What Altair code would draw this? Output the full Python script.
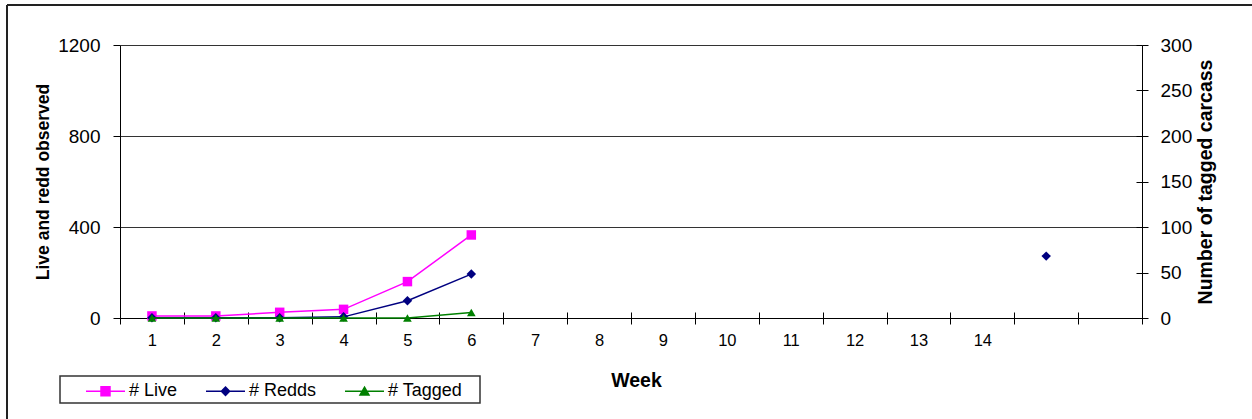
import json

import altair as alt
import pandas as pd

FONT = "Liberation Sans"

# Weekly survey counts
weeks = list(range(1, 17))
week_labels = [str(w) for w in range(1, 15)] + ["", ""]

live_weeks = [1, 2, 3, 4, 5, 6]
live_counts = [9, 9, 25, 38, 160, 365]

redd_weeks = [1, 2, 3, 4, 5, 6, 15]
redd_counts = [1, 1, 1, 5, 76, 193, 272]

tagged_weeks = [1, 2, 3, 4, 5, 6]
tagged_counts = [0, 0, 0, 0, 0, 6]

series_names = ["# Live", "# Redds", "# Tagged"]
series_colors = ["#FF00FF", "#000080", "#008000"]
# legend glyphs: a short line with the series marker in its middle
series_glyphs = [
    "M-1,0H1M-0.23,-0.23H0.23V0.23H-0.23Z",
    "M-1,0H1M0,-0.21L0.21,0L0,0.21L-0.21,0Z",
    "M-1,0H1M0,-0.21L0.23,0.19H-0.23Z",
]

left_ticks = [0, 400, 800, 1200]
right_ticks = [0, 50, 100, 150, 200, 250, 300]


def rows(name, wk, vals):
    out, run, prev = [], 0, None
    for w, v in zip(wk, vals):
        if prev is not None and w - prev > 1:
            run += 1  # weeks without a survey break the line
        out.append({"week": w, "series": name, "value": v, "run": run})
        prev = w
    return out


df = pd.DataFrame(
    rows("# Live", live_weeks, live_counts)
    + rows("# Redds", redd_weeks, redd_counts)
    + rows("# Tagged", tagged_weeks, tagged_counts)
)

x_scale = alt.Scale(domain=weeks, paddingInner=0, paddingOuter=0)

x_enc = alt.X(
    "week:O",
    scale=x_scale,
    axis=alt.Axis(
        title="Week",
        labelExpr=f"{json.dumps(week_labels)}[datum.value - 1]",
        labelAngle=0,
        tickBand="extent",
        tickSize=6,
        labelPadding=8,
        labelFont=FONT,
        labelFontSize=16.5,
        labelColor="#000",
        titleFont=FONT,
        titleFontSize=19.5,
        titleFontWeight="bold",
        titleColor="#000",
        titlePadding=23,
        titleX=516,
        domainColor="#000",
        tickColor="#000",
        grid=False,
    ),
)
x_plain = alt.X("week:O", scale=x_scale, axis=None)
# inner half of the crossing tick marks along the week axis
x_inner = alt.X(
    "week:O",
    scale=x_scale,
    axis=alt.Axis(
        orient="bottom",
        offset=-6,
        tickSize=6,
        tickBand="extent",
        labels=False,
        domain=False,
        grid=False,
        title=None,
        tickColor="#000",
    ),
)

y_left = alt.Y(
    "value:Q",
    scale=alt.Scale(domain=[0, 1200]),
    axis=alt.Axis(
        title="Live and redd observed",
        values=left_ticks,
        format="d",
        grid=True,
        gridColor="#333",
        gridWidth=1,
        tickSize=7,
        labelPadding=13,
        labelFont=FONT,
        labelFontSize=19,
        labelColor="#000",
        titleFont=FONT,
        titleFontSize=17.5,
        titleFontWeight="bold",
        titleColor="#000",
        titlePadding=5,
        domainColor="#000",
        tickColor="#000",
    ),
)

right_scale = alt.Scale(domain=[0, 300])
y_right = alt.Y(
    "value:Q",
    scale=right_scale,
    axis=alt.Axis(
        orient="right",
        title="Number of tagged carcass",
        values=right_ticks,
        format="d",
        grid=False,
        tickSize=6,
        labelPadding=12,
        labelFont=FONT,
        labelFontSize=19,
        labelColor="#000",
        titleFont=FONT,
        titleFontSize=19.5,
        titleFontWeight="bold",
        titleColor="#000",
        titleAngle=270,
        titleBaseline="top",
        titlePadding=5,
        domainColor="#000",
        tickColor="#000",
    ),
)
y_right_plain = alt.Y("value:Q", scale=right_scale, axis=None)
# inner half of the crossing tick marks on the carcass axis
y_right_inner = alt.Y(
    "value:Q",
    scale=right_scale,
    axis=alt.Axis(
        orient="right",
        offset=-6,
        tickSize=6,
        values=right_ticks,
        labels=False,
        domain=False,
        grid=False,
        title=None,
        tickColor="#000",
    ),
)

base = alt.Chart(df)


def series_layers(name, color, shape, size, x_line, x_pts, y_line, y_pts):
    sub = base.transform_filter(alt.datum.series == name)
    line = sub.mark_line(color=color, strokeWidth=1.5).encode(
        x=x_line, y=y_line, detail="run:N"
    )
    pts = sub.mark_point(
        shape=shape, filled=True, size=size, color=color, opacity=1
    ).encode(x=x_pts, y=y_pts)
    return [line, pts]


legend = alt.Legend(
    orient="none",
    legendX=-35,
    legendY=325.5,
    direction="horizontal",
    title=None,
    padding=0,
    labelFont=FONT,
    labelFontSize=18,
    labelColor="#000",
    labelOffset=3,
    columnPadding=25,
    symbolSize=1521,
    symbolStrokeWidth=1.5,
    symbolOpacity=1,
)

legend_layer = base.mark_point(filled=True).encode(
    x=x_enc,
    y=y_left,
    color=alt.Color(
        "series:N",
        scale=alt.Scale(domain=series_names, range=series_colors),
        legend=legend,
    ),
    stroke=alt.Stroke(
        "series:N",
        scale=alt.Scale(domain=series_names, range=series_colors),
        legend=legend,
    ),
    shape=alt.Shape(
        "series:N",
        scale=alt.Scale(domain=series_names, range=series_glyphs),
        legend=legend,
    ),
    opacity=alt.value(0),
)

# outer chart frame and the box around the legend
frame_data = pd.DataFrame({"edge": [0]})
frame_left = alt.Chart(frame_data).mark_rule(color="#222", strokeWidth=2).encode(
    x=alt.value(-113), y=alt.value(-40), y2=alt.value(380)
)
frame_top = alt.Chart(frame_data).mark_rule(color="#222", strokeWidth=2).encode(
    x=alt.value(-113), x2=alt.value(1140), y=alt.value(-40)
)
legend_box = alt.Chart(frame_data).mark_rect(
    fill="white", stroke="#333", strokeWidth=1.5
).encode(x=alt.value(-60), x2=alt.value(360), y=alt.value(331), y2=alt.value(358))

left = alt.layer(
    frame_left,
    frame_top,
    legend_box,
    *series_layers("# Live", series_colors[0], "square", 90, x_enc, x_enc, y_left, y_left),
    *series_layers("# Redds", series_colors[1], "diamond", 90, x_enc, x_enc, y_left, y_left),
    legend_layer,
)

right_ticks_layer = base.mark_point(opacity=0).encode(y=y_right_inner)
right = alt.layer(
    *series_layers(
        "# Tagged", series_colors[2], "triangle-up", 75,
        x_plain, x_plain, y_right, y_right_plain,
    ),
    right_ticks_layer,
).resolve_axis(y="independent")

week_ticks_layer = base.mark_point(opacity=0).encode(x=x_inner)

chart = (
    alt.layer(left, right, week_ticks_layer)
    .resolve_scale(y="independent")
    .resolve_axis(x="independent")
    .properties(
        width=1022,
        height=273,
        autosize=alt.AutoSizeParams(type="none"),
        padding={"left": 120, "top": 45, "right": 110, "bottom": 101},
        background="white",
    )
    .configure_view(stroke="transparent")
)

chart.save("out.html", embed_options={"renderer": "svg", "actions": False})
